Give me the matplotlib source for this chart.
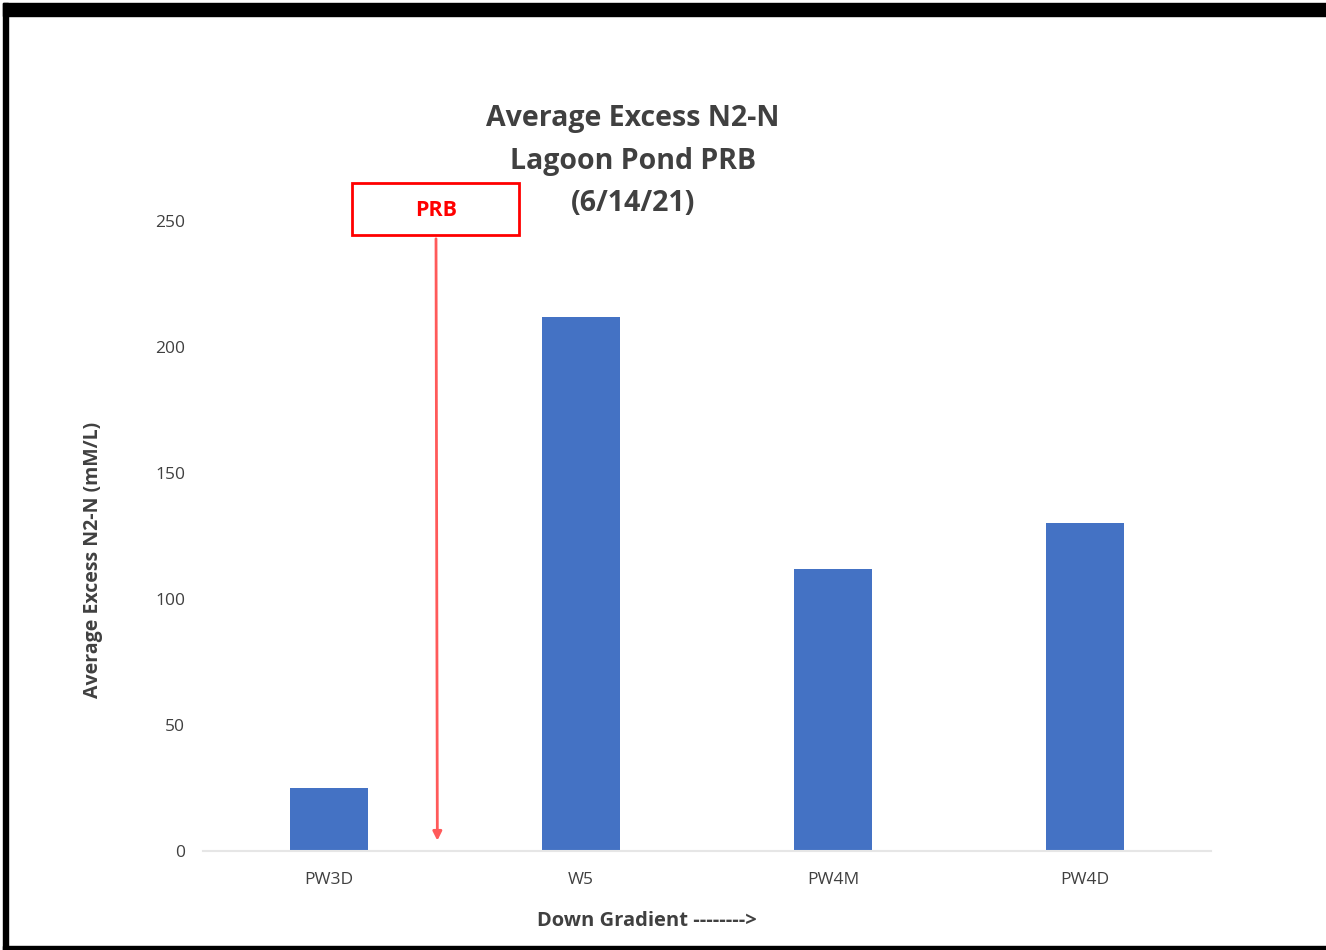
import matplotlib
matplotlib.use('Agg')
from matplotlib import pyplot as plt
from matplotlib.patches import Rectangle

wells = ['PW3D', 'W5', 'PW4M', 'PW4D']
excess_n2 = [25, 212, 112, 130]
yticks = [0, 50, 100, 150, 200, 250]

plt.rcParams['font.family'] = ['Open Sans', 'DejaVu Sans']

W, H = 1326, 950
fig = plt.figure(figsize=(W/100, H/100), dpi=100)

# plot area (pixel positions converted to figure fractions)
ax = fig.add_axes([203/W, (H-851)/H, (1211-203)/W, (851-221)/H])
ax.bar(range(len(wells)), excess_n2, width=0.31, color='#4472C4')
ax.set_xlim(-0.5, len(wells) - 0.5)
ax.set_ylim(0, 250)
ax.set_yticks(yticks)
ax.set_xticks(range(len(wells)))
ax.set_xticklabels(wells)
for s in ['top', 'right', 'left']:
    ax.spines[s].set_visible(False)
ax.spines['bottom'].set_color('#e6e6e6')
ax.spines['bottom'].set_linewidth(1.5)
ax.tick_params(axis='both', length=0, labelsize=12.5, colors='#404040')
ax.tick_params(axis='y', pad=13)
ax.tick_params(axis='x', pad=15)

fig.text(93/W, 1 - 560/H, 'Average Excess N2-N (mM/L)', rotation=90,
         ha='center', va='center', fontsize=14, fontweight='bold', color='#404040')
fig.text(647/W, 1 - 921/H, 'Down Gradient -------->', ha='center', va='center',
         fontsize=14.5, fontweight='bold', color='#404040')
fig.text(633/W, 1 - 161/H, 'Average Excess N2-N\nLagoon Pond PRB\n(6/14/21)',
         ha='center', va='center', fontsize=20.5, fontweight='bold',
         color='#404040', linespacing=1.6)

# PRB marker box and arrow down to the baseline
fig.patches.append(Rectangle((352/W, (H-235)/H), 167/W, 52/H, transform=fig.transFigure,
                             fill=False, edgecolor='red', linewidth=2))
fig.text(436/W, 1 - 210/H, 'PRB', ha='center', va='center', fontsize=15.5,
         fontweight='bold', color='red')
ax.annotate('', xy=(0.43, 3), xycoords='data',
            xytext=(436/W, (H-236)/H), textcoords='figure fraction',
            arrowprops=dict(arrowstyle='-|>', color='#ff5a5a', lw=2, mutation_scale=13),
            annotation_clip=False)

# black frame around the picture
fig.patches.append(Rectangle((3/W, (H-16)/H), 1, 13/H, transform=fig.transFigure,
                             color='black'))
fig.patches.append(Rectangle((3/W, 0), 5/W, (H-3)/H, transform=fig.transFigure,
                             color='black'))
fig.patches.append(Rectangle((3/W, 0), 1, 4/H, transform=fig.transFigure,
                             color='black'))

plt.savefig('out.png', dpi=100)
